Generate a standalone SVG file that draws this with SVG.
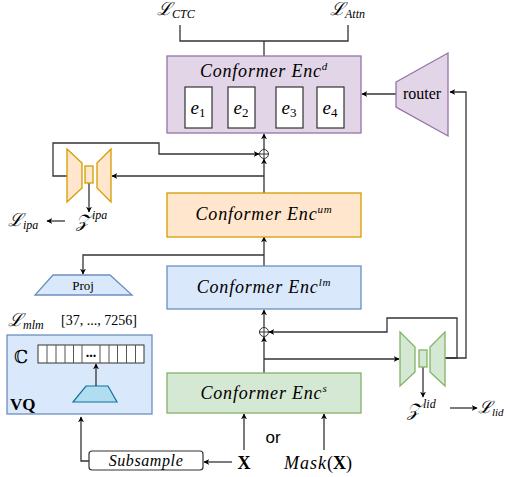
<svg xmlns="http://www.w3.org/2000/svg" width="506" height="477" viewBox="0 0 506 477">
<defs>
<marker id="arr" viewBox="0 0 10 10" refX="9" refY="5" markerWidth="6" markerHeight="6" orient="auto-start-reverse" markerUnits="userSpaceOnUse"><path d="M0,0 L10,5 L0,10 L3,5 z" fill="#000"/></marker>
<style>
.ln{fill:none;stroke:#333;stroke-width:1.3}
.ar{marker-end:url(#arr)}
.purple{fill:#e1d5e7;stroke:#9673a6;stroke-width:1.3}
.orange{fill:#ffe6cc;stroke:#d79b00;stroke-width:1.3}
.blue{fill:#dae8fc;stroke:#6c8ebf;stroke-width:1.3}
.green{fill:#d5e8d4;stroke:#82b366;stroke-width:1.3}
.white{fill:#fff;stroke:#333;stroke-width:1.2}
.serif{font-family:'Liberation Serif','Times New Roman','DejaVu Serif',Times,serif}
.it{font-style:italic}
.encT{font-size:18px;letter-spacing:0.8px;font-style:italic}
</style>
</defs>

<g id="connectors">
  <path class="ln" d="M180,25 V41 H348 V25 M264,41 V56"/>
  <path class="ln ar" d="M396,94 H362"/>
  <path class="ln ar" d="M445,358 H466 V92 H450"/>
  <path class="ln ar" d="M445,358 H457 V318 H387 V332 H269"/>
  <path class="ln ar" d="M264,373 V337"/>
  <path class="ln ar" d="M264,359 H399"/>
  <path class="ln ar" d="M264,328 V310"/>
  <path class="ln ar" d="M264,266 V237"/>
  <path class="ln ar" d="M264,255 H83 V274"/>
  <path class="ln ar" d="M264,193 V159"/>
  <path class="ln ar" d="M264,176 H112"/>
  <path class="ln ar" d="M67,176 H53 V143 H159 V154 H259"/>
  <path class="ln ar" d="M264,150 V134"/>
  <path class="ln ar" d="M89,183 V212"/>
  <path class="ln ar" d="M65,221 H47"/>
  <path class="ln ar" d="M423,367 V397"/>
  <path class="ln ar" d="M450,408 H477"/>
  <path class="ln ar" d="M244,450 V414"/>
  <path class="ln ar" d="M324,450 V414"/>
  <path class="ln ar" d="M232,462 H204"/>
  <path class="ln ar" d="M89,461 H81 V417"/>
</g>

<g id="plus-upper">
  <circle cx="264" cy="154" r="4.5" fill="#fff" stroke="#333" stroke-width="1"/>
  <path d="M259.5,154 H268.5 M264,149.5 V158.5" stroke="#333" stroke-width="1"/>
</g>
<g id="plus-lower">
  <circle cx="264" cy="332" r="4.5" fill="#fff" stroke="#333" stroke-width="1"/>
  <path d="M259.5,332 H268.5 M264,327.5 V336.5" stroke="#333" stroke-width="1"/>
</g>

<g id="losses-top" class="serif it">
  <text x="157" y="15" font-size="18">ℒ<tspan font-size="12" dy="3">CTC</tspan></text>
  <text x="330" y="15" font-size="18">ℒ<tspan font-size="12" dy="3">Attn</tspan></text>
</g>

<g id="enc-d">
  <rect class="purple" x="167" y="56" width="194" height="77"/>
  <text class="serif encT" x="264" y="77" text-anchor="middle">Conformer Enc<tspan font-size="11" dy="-7">d</tspan></text>
  <rect class="white" x="185" y="87" width="27" height="41"/>
  <rect class="white" x="228" y="87" width="27" height="41"/>
  <rect class="white" x="276" y="87" width="27" height="41"/>
  <rect class="white" x="317" y="87" width="27" height="41"/>
  <g class="serif" font-size="19" text-anchor="middle">
  <text x="198" y="114"><tspan font-style="italic">e</tspan><tspan font-size="13" dy="3">1</tspan></text>
  <text x="241" y="114"><tspan font-style="italic">e</tspan><tspan font-size="13" dy="3">2</tspan></text>
  <text x="289" y="114"><tspan font-style="italic">e</tspan><tspan font-size="13" dy="3">3</tspan></text>
  <text x="330" y="114"><tspan font-style="italic">e</tspan><tspan font-size="13" dy="3">4</tspan></text>
  </g>
</g>

<g id="router">
  <path class="purple" d="M396,82 L448,53 V136 L396,107 Z"/>
  <text class="serif" x="422" y="99" font-size="16" text-anchor="middle">router</text>
</g>

<g id="ipa">
  <path class="orange" d="M67,149 L82,163 V188 L67,202 Z"/>
  <rect class="orange" x="85" y="166" width="8" height="17"/>
  <path class="orange" d="M111,149 L97,163 V188 L111,202 Z"/>
  <text class="serif it" x="76" y="227" font-size="18">𝒵<tspan font-size="12" dx="2" dy="-8">ipa</tspan></text>
  <text class="serif it" x="8" y="226" font-size="18">ℒ<tspan font-size="12" dy="3">ipa</tspan></text>
</g>

<g id="enc-um">
  <rect class="orange" x="167" y="193" width="194" height="44"/>
  <text class="serif encT" x="264" y="220" text-anchor="middle">Conformer Enc<tspan font-size="11" dy="-7">um</tspan></text>
</g>

<g id="enc-lm">
  <rect class="blue" x="167" y="266" width="194" height="43"/>
  <text class="serif encT" x="264" y="293" text-anchor="middle">Conformer Enc<tspan font-size="11" dy="-7">lm</tspan></text>
</g>

<g id="proj">
  <path class="blue" d="M53,275 H110 L132,295 H35 Z"/>
  <text class="serif" x="83" y="290" font-size="13" text-anchor="middle">Proj</text>
</g>

<g id="mlm-label" class="serif">
  <text x="8" y="326" font-style="italic" font-size="18">ℒ<tspan font-size="12" dy="3">mlm</tspan></text>
  <text x="61" y="325" font-size="14">[37, ..., 7256]</text>
</g>

<g id="vq">
  <rect class="blue" x="7" y="335" width="145" height="79"/>
  <text class="serif" x="14" y="363" font-size="18">ℂ</text>
  <rect x="38" y="345" width="106" height="18" fill="#fff" stroke="#333" stroke-width="1"/>
  <path d="M47,345 V363 M56,345 V363 M65,345 V363 M73.5,345 V363 M82,345 V363 M100,345 V363 M109,345 V363 M117.5,345 V363 M126.5,345 V363 M135.5,345 V363" stroke="#555" stroke-width="1"/>
  <text class="serif" x="91" y="357" font-size="14" text-anchor="middle" font-weight="bold">...</text>
  <path d="M86,386 H108 L117,402 H73 Z" fill="#b1ddf0" stroke="#10739e" stroke-width="1.2"/>
  <path class="ln ar" d="M96,386 V364"/>
  <text class="serif" x="10" y="410" font-size="17" font-weight="bold">VQ</text>
</g>

<g id="lid">
  <path class="green" d="M400,332 L415,347 V372 L400,386 Z"/>
  <rect class="green" x="419" y="350" width="8" height="17"/>
  <path class="green" d="M445,332 L430,347 V372 L445,386 Z"/>
  <text class="serif it" x="407" y="416" font-size="18">𝒵<tspan font-size="12" dx="2" dy="-8">lid</tspan></text>
  <text class="serif it" x="478" y="413" font-size="17">ℒ<tspan font-size="11" dy="3">lid</tspan></text>
</g>

<g id="enc-s">
  <rect class="green" x="167" y="373" width="194" height="40"/>
  <text class="serif encT" x="264" y="399" text-anchor="middle">Conformer Enc<tspan font-size="11" dy="-7">s</tspan></text>
</g>

<g id="inputs">
  <text x="273" y="443" font-family="'Liberation Sans', Arial, sans-serif" font-size="17" text-anchor="middle">or</text>
  <text class="serif" x="244" y="469" font-size="18" font-weight="bold" text-anchor="middle">X</text>
  <text class="serif" x="284" y="469" font-size="18"><tspan font-style="italic" letter-spacing="1">Mask</tspan>(<tspan font-weight="bold">X</tspan>)</text>
</g>

<g id="subsample">
  <rect x="89" y="451" width="114" height="19" rx="3" fill="#fff" stroke="#333" stroke-width="1.2"/>
  <text class="serif it" x="146" y="466" font-size="16" letter-spacing="0.6" text-anchor="middle">Subsample</text>
</g>
</svg>
